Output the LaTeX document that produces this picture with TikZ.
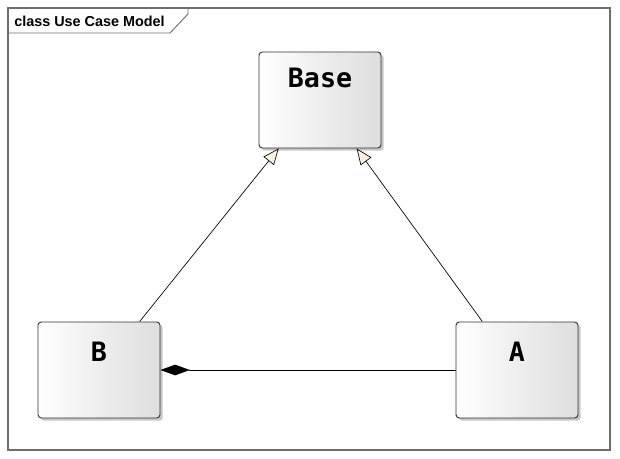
\documentclass[tikz,border=0pt]{standalone}
\usepackage{fontspec}
\setmainfont{Liberation Sans}
\newfontfamily\boxfont{DejaVu Sans Mono}
\usepackage{tikz}
\usetikzlibrary{arrows.meta, shadows}

\definecolor{framegray}{HTML}{6E6E6E}
\definecolor{headcream}{HTML}{FCF3E4}

\begin{document}
\begin{tikzpicture}[
    x=0.75pt, y=-0.75pt,
    classbox/.style={
        rectangle, rounded corners=2.5pt,
        draw=black!80, line width=0.7pt,
        minimum width=91.5pt, minimum height=72pt,
        left color=white, right color=black!13,
        drop shadow={shadow xshift=2pt, shadow yshift=-2pt, fill=black!22, opacity=1}
    },
    classname/.style={font=\boxfont\bfseries\fontsize{20}{22}\selectfont},
    genarrow/.style={-{Triangle[length=12pt, width=10pt, fill=headcream]}, line width=0.5pt},
    comparrow/.style={-{Diamond[length=22pt, width=8pt, fill=black]}, line width=0.5pt},
]
\useasboundingbox (0,0) rectangle (620,459);

% Cornice
\draw[framegray, line width=0.9pt] (8,8) rectangle (610,450);
\draw[framegray, line width=0.7pt] (8,33) -- (170,33) -- (188,14) -- (188,8);
\node[anchor=base west, font=\bfseries\fontsize{10.8}{12}\selectfont, inner sep=0pt]
    (title) at (14,27) {class Use Case Model};

% Posizioni
\node[classbox, label={[classname, anchor=north, yshift=-9pt]north:Base}] (base) at (320,100) {};
\node[classbox, label={[classname, anchor=north, yshift=-12pt]north:B}]  (b)    at (99,370)  {};
\node[classbox, label={[classname, anchor=north, yshift=-12pt]north:A}]  (a)    at (517,370) {};

% B -> Base
\draw[genarrow] ([xshift=30.5pt]b.north) -- ([xshift=-31pt]base.south);

% A -> Base
\draw[genarrow] ([xshift=-26pt]a.north) -- ([xshift=27.5pt]base.south);

% A -> B (composizione)
\draw[comparrow] (a.west) -- (b.east);

\end{tikzpicture}
\end{document}
